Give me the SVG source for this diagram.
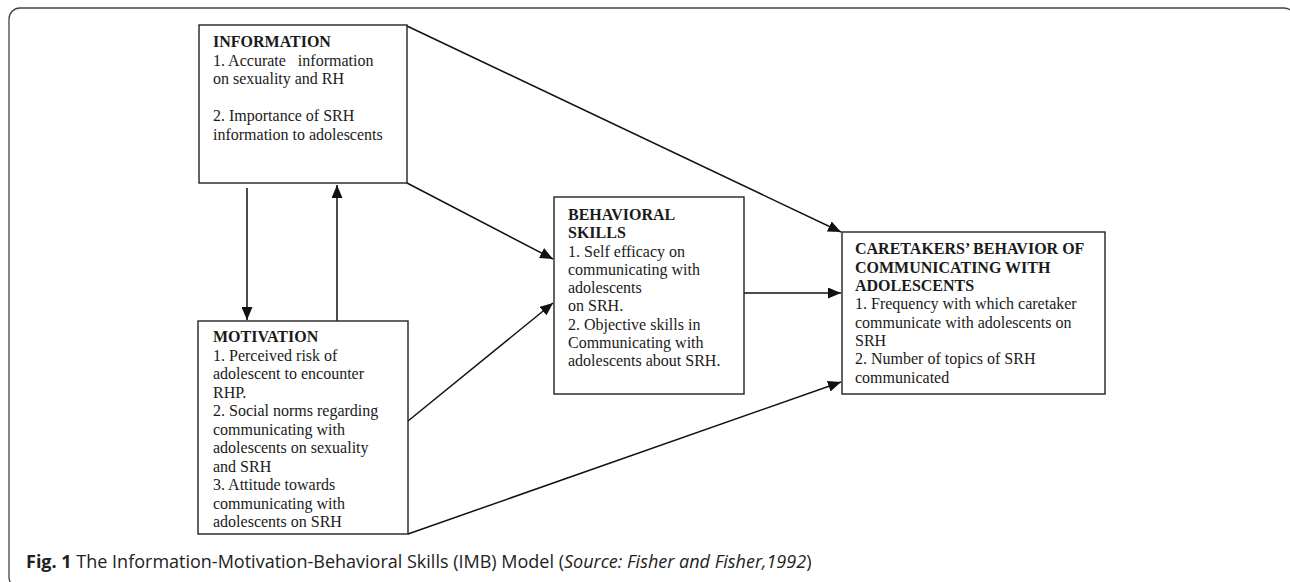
<svg xmlns="http://www.w3.org/2000/svg" width="1290" height="582" viewBox="0 0 1290 582">
<style>
.box{fill:#fff;stroke:#222;stroke-width:1.4}
.t{font-family:"Liberation Serif","Times New Roman",serif;font-size:16px;fill:#1a1a1a}
.b{font-weight:bold}
.c{stroke:#111;stroke-width:1.5;fill:none}
.cap{font-family:"Open Sans","Noto Sans",sans-serif;font-size:18px;fill:#222}
</style>
<defs>
<marker id="ah" markerUnits="userSpaceOnUse" markerWidth="14" markerHeight="11" refX="13" refY="5.5" orient="auto">
<path d="M0,0 L13,5.5 L0,11 z" fill="#111"/>
</marker>
</defs>
<rect width="1290" height="582" fill="#fff"/>
<rect x="9" y="8" width="1286" height="580" rx="11" ry="11" fill="none" stroke="#444" stroke-width="1.3"/>
<g id="connectors">
<line class="c" x1="407" y1="26" x2="841" y2="232" marker-end="url(#ah)"/>
<line class="c" x1="407" y1="183" x2="553" y2="259" marker-end="url(#ah)"/>
<line class="c" x1="247" y1="188" x2="247" y2="320" marker-end="url(#ah)"/>
<line class="c" x1="337" y1="321" x2="337" y2="185" marker-end="url(#ah)"/>
<line class="c" x1="408" y1="421" x2="553" y2="303" marker-end="url(#ah)"/>
<line class="c" x1="744" y1="293" x2="841" y2="293" marker-end="url(#ah)"/>
<line class="c" x1="408" y1="534" x2="841" y2="382" marker-end="url(#ah)"/>
</g>
<g id="information">
<rect class="box" x="199" y="25" width="208" height="158"/>
<text class="t" x="213" y="47" xml:space="preserve"><tspan class="b">INFORMATION</tspan><tspan x="213" y="65.5">1. Accurate   information</tspan><tspan x="213" y="84">on sexuality and RH</tspan><tspan x="213" y="121">2. Importance of SRH</tspan><tspan x="213" y="139.5">information to adolescents</tspan></text>
</g>
<g id="motivation">
<rect class="box" x="198" y="321" width="210" height="213"/>
<text class="t" x="213" y="342"><tspan class="b">MOTIVATION</tspan><tspan x="213" y="360.5">1. Perceived risk of</tspan><tspan x="213" y="379">adolescent to encounter</tspan><tspan x="213" y="397.5">RHP.</tspan><tspan x="213" y="416">2. Social norms regarding</tspan><tspan x="213" y="434.5">communicating with</tspan><tspan x="213" y="453">adolescents on sexuality</tspan><tspan x="213" y="471.5">and SRH</tspan><tspan x="213" y="490">3. Attitude towards</tspan><tspan x="213" y="508.5">communicating with</tspan><tspan x="213" y="527">adolescents on SRH</tspan></text>
</g>
<g id="behavioral">
<rect class="box" x="554" y="197" width="190" height="197"/>
<text class="t" x="568" y="220"><tspan class="b">BEHAVIORAL</tspan><tspan class="b" x="568" y="238.3">SKILLS</tspan><tspan x="568" y="256.5">1. Self efficacy on</tspan><tspan x="568" y="274.8">communicating with</tspan><tspan x="568" y="293">adolescents</tspan><tspan x="568" y="311.3">on SRH.</tspan><tspan x="568" y="329.5">2. Objective skills in</tspan><tspan x="568" y="347.8">Communicating with</tspan><tspan x="568" y="366">adolescents about SRH.</tspan></text>
</g>
<g id="caretakers">
<rect class="box" x="842" y="232" width="263" height="162"/>
<text class="t" x="855" y="254.3"><tspan class="b">CARETAKERS’ BEHAVIOR OF</tspan><tspan class="b" x="855" y="272.6">COMMUNICATING WITH</tspan><tspan class="b" x="855" y="291">ADOLESCENTS</tspan><tspan x="855" y="309.3">1. Frequency with which caretaker</tspan><tspan x="855" y="327.6">communicate with adolescents on</tspan><tspan x="855" y="346">SRH</tspan><tspan x="855" y="364.3">2. Number of topics of SRH</tspan><tspan x="855" y="382.6">communicated</tspan></text>
</g>
<text class="cap" x="26" y="568"><tspan font-weight="bold">Fig. 1</tspan> The Information-Motivation-Behavioral Skills (IMB) Model (<tspan font-style="italic">Source: Fisher and Fisher,1992</tspan>)</text>
</svg>
